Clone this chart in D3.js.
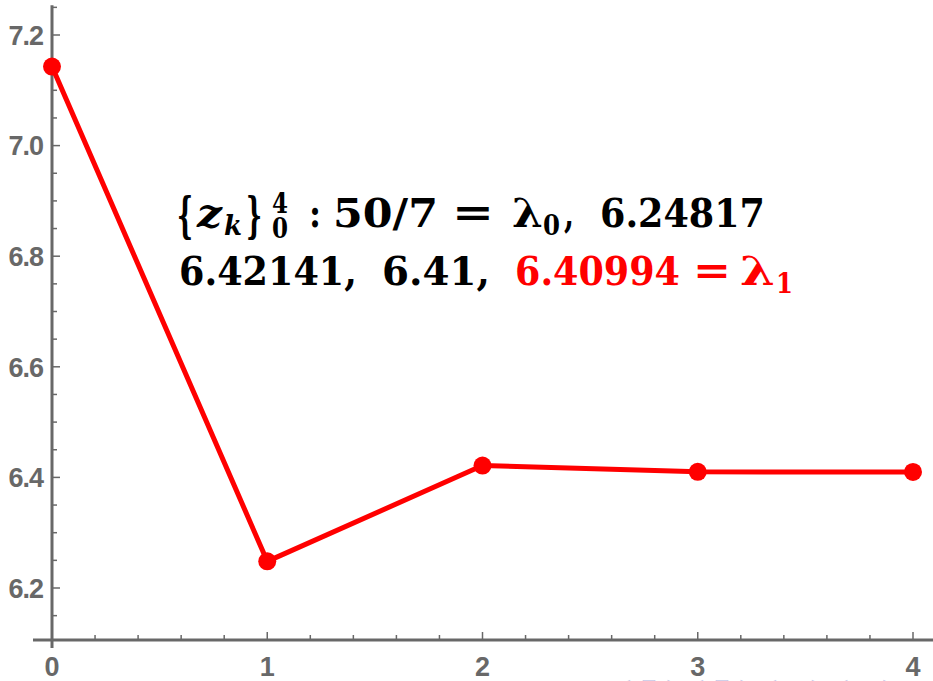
<!DOCTYPE html>
<html>
<head>
<meta charset="utf-8">
<script src="https://cdn.jsdelivr.net/npm/d3@7/dist/d3.min.js"></script>
<style>
  html, body { margin: 0; padding: 0; background: #fff; }
  svg { display: block; }
</style>
</head>
<body>
<svg id="chart" width="933" height="681"></svg>
<script>
// Iterates z_k, k = 0..4
const steps = [0, 1, 2, 3, 4];
const zValues = [50 / 7, 6.24817, 6.42141, 6.41, 6.40994];
const yTickValues = [6.2, 6.4, 6.6, 6.8, 7.0, 7.2];
const xTickValues = [0, 1, 2, 3, 4];

const W = 933, H = 681;
const svg = d3.select("#chart");

const x = d3.scaleLinear().domain([0, 4]).range([52, 913]);
const y = d3.scaleLinear().domain([6.2, 7.2]).range([588, 35]);

const axisColor = "#686868";
const red = "#ff0000";
const xAxisY = y(6.106);
const yTop = y(7.254);

// frame axes
svg.append("line")
  .attr("x1", x(0)).attr("x2", x(0))
  .attr("y1", yTop).attr("y2", xAxisY + 8)
  .attr("stroke", axisColor).attr("stroke-width", 3);
svg.append("line")
  .attr("x1", 33).attr("x2", W)
  .attr("y1", xAxisY).attr("y2", xAxisY)
  .attr("stroke", axisColor).attr("stroke-width", 3);

// y ticks (pointing into the plot)
const yMinor = d3.range(6.15, 7.26, 0.05).filter(v => v < 7.254);
svg.append("g").selectAll("line").data(yMinor).join("line")
  .attr("x1", x(0)).attr("x2", d => x(0) + (yTickValues.some(t => Math.abs(t - d) < 1e-6) ? 8 : 5))
  .attr("y1", d => y(d)).attr("y2", d => y(d))
  .attr("stroke", axisColor).attr("stroke-width", 1.5);

svg.append("g").selectAll("text").data(yTickValues).join("text")
  .attr("x", 43).attr("y", d => y(d))
  .attr("dy", "0.36em")
  .attr("text-anchor", "end")
  .attr("font-family", "Liberation Sans, Arial, sans-serif")
  .attr("font-weight", "bold")
  .attr("font-size", 27)
  .attr("letter-spacing", -1)
  .attr("fill", axisColor)
  .text(d => d3.format(".1f")(d));

// x ticks (pointing up)
const xMinor = d3.range(0, 4.01, 0.2);
svg.append("g").selectAll("line").data(xMinor).join("line")
  .attr("x1", d => x(d)).attr("x2", d => x(d))
  .attr("y1", xAxisY)
  .attr("y2", d => xAxisY - (Math.abs(d - Math.round(d)) < 1e-6 ? 8 : 5))
  .attr("stroke", axisColor).attr("stroke-width", 1.5);

svg.append("g").selectAll("text").data(xTickValues).join("text")
  .attr("x", d => x(d)).attr("y", 676)
  .attr("text-anchor", "middle")
  .attr("font-family", "Liberation Sans, Arial, sans-serif")
  .attr("font-weight", "bold")
  .attr("font-size", 27)
  .attr("fill", axisColor)
  .text(d => d);

// series line and points
const pts = steps.map((s, i) => [s, zValues[i]]);
svg.append("path")
  .datum(pts)
  .attr("d", d3.line().x(d => x(d[0])).y(d => y(d[1])))
  .attr("fill", "none")
  .attr("stroke", red)
  .attr("stroke-width", 5)
  .attr("stroke-linejoin", "round");

svg.append("g").selectAll("circle").data(pts).join("circle")
  .attr("cx", d => x(d[0])).attr("cy", d => y(d[1]))
  .attr("r", 9)
  .attr("fill", red);

// annotation: two lines of math set piece by piece
const note = svg.append("g")
  .attr("font-family", "'DejaVu Serif', serif")
  .attr("font-weight", "bold");

function piece(str, px, py, opt = {}) {
  const t = note.append("text")
    .attr("x", px).attr("y", py)
    .attr("font-size", opt.size || 40)
    .attr("fill", opt.color || "#000")
    .text(str);
  if (opt.italic) t.attr("font-style", "italic");
  if (opt.width) t.attr("textLength", opt.width).attr("lengthAdjust", "spacingAndGlyphs");
  return t;
}

const b1 = 227, b2 = 285, subSize = 28;
piece("{", 177, b1 + 5, { size: 48, width: 16 });
piece("z", 197, b1, { italic: true, width: 25 });
piece("k", 224, b1 + 8, { italic: true, size: subSize, width: 18 });
piece("}", 246, b1 + 5, { size: 48, width: 16 });
piece("4", 272, b1 - 14, { size: subSize, width: 16 });
piece("0", 272, b1 + 11, { size: subSize, width: 16 });
piece(":", 309, b1, { width: 12 });
piece("50/7", 333, b1, { width: 105 });
piece("=", 452, b1 - 1, { width: 42 });
piece("\u03bb", 512, b1, { width: 31 });
piece("0", 543, b1 + 8, { size: subSize, width: 17 });
piece(",", 564, b1, { width: 10 });
piece(zValues[1].toFixed(5), 600, b1, { width: 165 });

piece(zValues[2].toFixed(5) + ",", 179, b2, { width: 178 });
piece(zValues[3].toFixed(2) + ",", 382, b2, { width: 108 });
piece(zValues[4].toFixed(5), 515, b2, { width: 165, color: red });
piece("=", 693, b2 - 1, { width: 38, color: red });
piece("\u03bb", 740, b2, { width: 35, color: red });
piece("1", 776, b2 + 8, { size: subSize, width: 17, color: red });

// faint navigation glyphs along the bottom edge
svg.append("text")
  .attr("x", 618).attr("y", 690)
  .attr("font-family", "DejaVu Sans, sans-serif")
  .attr("font-size", 16)
  .attr("fill", "#c8c8e6")
  .attr("letter-spacing", 3)
  .text("\u25c1 \u25a1 \u25b7 \u25c1 \u25a3 \u25b7 \u25c1 \u2261 \u25b7 \u25c1 \u2261 \u25b7 \u2261 \u2261 \u223d\u25ef");
</script>
</body>
</html>
